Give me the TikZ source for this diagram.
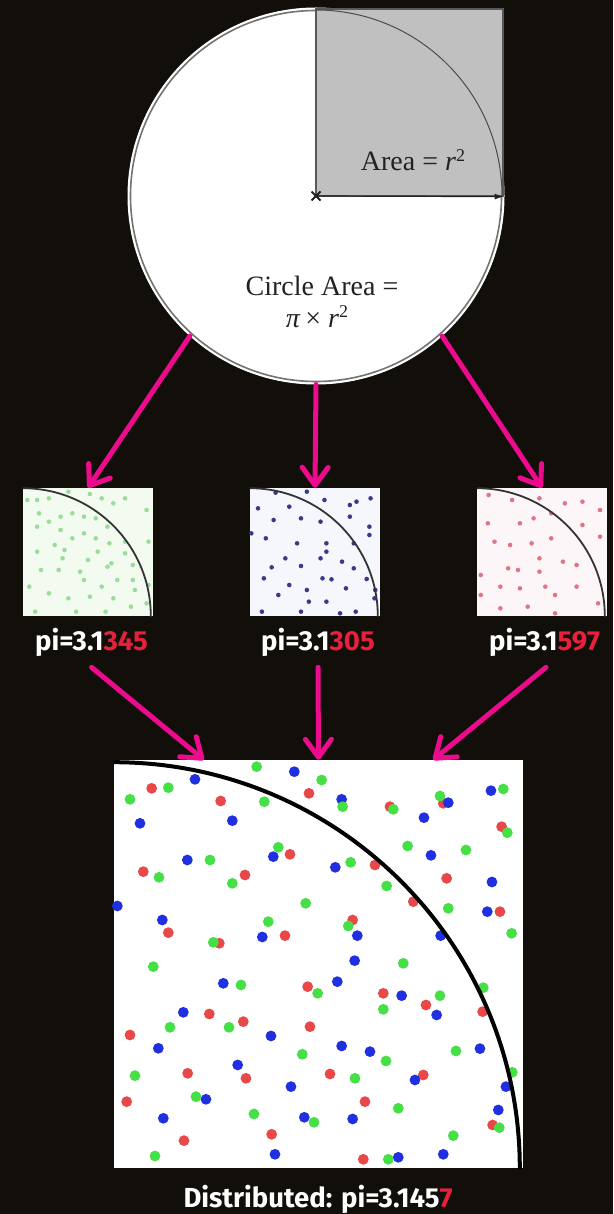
\documentclass[tikz,border=0pt]{standalone}
\usepackage{fontspec}
\setmainfont{Fira Sans}
\newfontfamily\seriffont{Liberation Serif}
\usetikzlibrary{arrows.meta,calc}
\definecolor{bg}{HTML}{120E09}
\definecolor{mag}{HTML}{EC0B8C}
\definecolor{pired}{HTML}{E8203C}
\definecolor{dred}{HTML}{E84848}
\definecolor{dgreen}{HTML}{45E045}
\definecolor{dblue}{HTML}{2030E0}
\definecolor{tgreen}{HTML}{F3FBF1}
\definecolor{tblue}{HTML}{F6F6FD}
\definecolor{tred}{HTML}{FDF6F8}
\definecolor{sgreen}{HTML}{9ADC9A}
\definecolor{sblue}{HTML}{3A3A8A}
\definecolor{sred}{HTML}{E07585}
\definecolor{sqgray}{HTML}{C0C0C0}
\definecolor{ink}{HTML}{222222}
\newcommand{\mysup}[1]{\raisebox{0.75ex}{\fontsize{18}{18}\selectfont #1}}
\begin{document}
\begin{tikzpicture}[x=1pt,y=-1pt,
  conn/.style={draw=mag, line width=5pt, line cap=round,
    -{Straight Barb[length=18pt,width=26pt,round]}},
  thumb/.style={rectangle, minimum width=130pt, minimum height=128pt, inner sep=0pt, draw=none},
  lab/.style={anchor=base, inner sep=0pt, text=white, font=\fontsize{27.5}{30}\selectfont\bfseries},
  serif/.style={text=ink, inner sep=0pt, anchor=base, font=\fontsize{28}{32}\selectfont\seriffont},
  tharc/.style={draw=black!80, line width=1.8pt},
  bigdot/.style={radius=5.4pt},
  smalldot/.style={radius=2.3pt}]
\useasboundingbox (0,0) rectangle (613,1214);
\fill[bg] (0,0) rectangle (613,1214);

% ---- main circle ----
\node[circle, minimum size=376pt, inner sep=0pt, fill=white, draw=white, line width=1pt] (main) at (316,196) {};
\draw[black!55, line width=1.6pt] (main.center) circle[radius=185.5pt];
\node[rectangle, minimum width=187pt, minimum height=187pt, inner sep=0pt,
      fill=sqgray, draw=black!65, line width=1.2pt] (area) at (409.5,102.5) {};
\begin{scope}
  \clip (area.south west) rectangle (area.north east);
  \draw[black!70, line width=1pt] (main.center) circle[radius=186pt];
\end{scope}
\draw[ink, line width=1.2pt, -{Latex[length=9pt,width=6pt]}] (main.center) -- (area.south east);
\draw[ink, line width=1.8pt] ($(main.center)+(-4.5,-4.5)$) -- ($(main.center)+(4.5,4.5)$)
  ($(main.center)+(-4.5,4.5)$) -- ($(main.center)+(4.5,-4.5)$);
\node[serif] (arealab) at (413,171) {Area = \textit{r}\mysup{2}};
\node[serif] (circlab1) at (322,296) {Circle Area =};
\node[serif] (circlab2) at (317,327) {\textit{π}\,× \textit{r}\mysup{2}};

% ---- thumbnails ----
\node[thumb, fill=tgreen] (t1) at (88,552) {};
\node[thumb, fill=tblue] (t2) at (315,552) {};
\node[thumb, fill=tred] (t3) at (542,552) {};

\begin{scope}[yshift=-480pt, x=0.3909pt, y=-0.3333pt]
  \foreach \p in {(70,60),(95,60),(125,55),(175,35),(230,42),(260,55),(290,70),(320,55),(375,90),
    (100,100),(125,125),(155,110),(185,100),(215,110),(245,115),(275,140),(95,140),(155,150),
    (215,160),(185,175),(245,175),(280,190),(320,185),(380,185),(140,195),(165,210),(95,215),
    (250,215),(320,220),(160,235),(225,240),(285,250),(105,270),(150,270),(205,275),(275,260),
    (340,255),(215,300),(260,320),(300,300),(340,300),(75,320),(125,340),(175,355),(230,350),
    (290,355),(345,330),(380,315),(90,395),(195,395),(270,395),(335,380),(375,370)}
    \fill[sgreen] \p circle[smalldot];
  \foreach \p in {(705,38),(785,35),(830,60),(895,75),(912,65),(948,55),(660,85),(740,80),(700,120),
    (770,115),(820,125),(895,110),(945,140),(643,160),(680,175),(760,190),(835,190),(835,215),
    (905,190),(945,165),(820,235),(730,235),(695,262),(770,258),(875,245),(905,265),(675,295),
    (740,315),(825,295),(848,298),(938,297),(785,330),(885,325),(712,345),(960,330),(958,355),
    (790,365),(835,365),(670,395),(770,395),(870,400),(910,395)}
    \fill[sblue] \p circle[smalldot];
  \foreach \p in {(1250,45),(1310,60),(1380,55),(1445,70),(1490,65),(1535,90),(1248,130),(1330,130),
    (1365,115),(1410,100),(1490,135),(1265,185),(1305,195),(1360,190),(1410,175),(1535,170),
    (1380,235),(1440,245),(1475,255),(1230,285),(1300,265),(1325,270),(1380,275),(1280,320),
    (1330,325),(1395,320),(1475,320),(1230,345),(1420,345),(1350,380),(1280,385),(1420,400),(1530,370)}
    \fill[sred] \p circle[smalldot];
\end{scope}

\foreach \t in {t1,t2,t3}{
  \begin{scope}
    \clip (\t.south west) rectangle (\t.north east);
    \draw[tharc] (\t.south west) circle[radius=128pt];
  \end{scope}
}

% ---- labels ----
\node[lab] (l1) at (91.5,650) {pi=3.1\textcolor{pired}{345}};
\node[lab] (l2) at (318,650) {pi=3.1\textcolor{pired}{305}};
\node[lab] (l3) at (544.5,650) {pi=3.1\textcolor{pired}{597}};

% ---- big square ----
\node[rectangle, minimum width=409pt, minimum height=408pt, inner sep=0pt, fill=white] (big) at (318.5,964) {};
\begin{scope}[xshift=110pt, yshift=-750pt, x=0.3333pt, y=-0.3333pt]
  \foreach \p in {(125,115),(332,153),(597,130),(840,170),(1000,160),(1175,230),(540,313),(795,345),
    (100,365),(405,375),(1010,385),(910,455),(1170,485),(175,548),(728,510),(525,557),(328,580),
    (593,710),(820,730),(948,765),(1118,785),(298,792),(400,815),(600,830),(60,855),(408,985),
    (233,970),(660,972),(940,975),(50,1055),(765,1055),(1148,1125),(485,1153),(222,1172),(760,1228)}
    \fill[dred] \p circle[bigdot];
  \foreach \p in {(553,65),(255,88),(695,148),(1015,158),(1143,122),(90,220),(367,212),(942,203),
    (963,316),(490,320),(232,330),(676,352),(1146,396),(1132,485),(22,468),(157,510),(742,557),
    (457,561),(992,557),(734,632),(340,700),(682,695),(875,737),(980,795),(220,787),(483,858),
    (145,895),(695,888),(780,905),(1110,896),(383,945),(915,990),(1188,1010),(543,1010),(288,1048),
    (1165,1080),(160,1105),(583,1102),(728,1107),(495,1213),(865,1222),(1000,1213)}
    \fill[dblue] \p circle[bigdot];
  \foreach \p in {(440,50),(635,90),(175,113),(60,148),(463,155),(698,170),(850,178),(990,138),
    (1180,117),(1192,248),(893,288),(1068,300),(505,292),(300,330),(722,337),(147,382),(367,400),
    (830,408),(587,460),(1015,475),(475,515),(715,528),(310,577),(1205,550),(130,650),(880,640),
    (393,705),(623,730),(990,737),(1120,713),(820,778),(357,832),(180,832),(577,913),(828,933),
    (1038,903),(735,985),(75,977),(1207,967),(258,1040),(865,1075),(432,1092),(612,1117),(1168,1133),
    (1030,1157),(135,1218),(835,1228)}
    \fill[dgreen] \p circle[bigdot];
\end{scope}
\begin{scope}
  \clip (big.south west) rectangle (big.north east);
  \draw[black, line width=4pt] (big.south west) circle[radius=406pt];
\end{scope}
\node[lab] (final) at (318,1207) {Distributed: pi=3.145\textcolor{pired}{7}};

% ---- connectors ----
\draw[conn] (main.228.3) -- (t1.north);
\draw[conn] (main.south) -- (t2.north);
\draw[conn] (main.312.8) -- (t3.north);
\coordinate (b1) at ($(big.north west)!0.22!(big.north east)$);
\coordinate (b3) at ($(big.north west)!0.78!(big.north east)$);
\draw[conn] ($(l1.south)+(0,11)$) -- (b1);
\draw[conn] ($(l2.south)+(0,11)$) -- (big.north);
\draw[conn] ($(l3.south)+(1.5,11)$) -- (b3);
\end{tikzpicture}
\end{document}
